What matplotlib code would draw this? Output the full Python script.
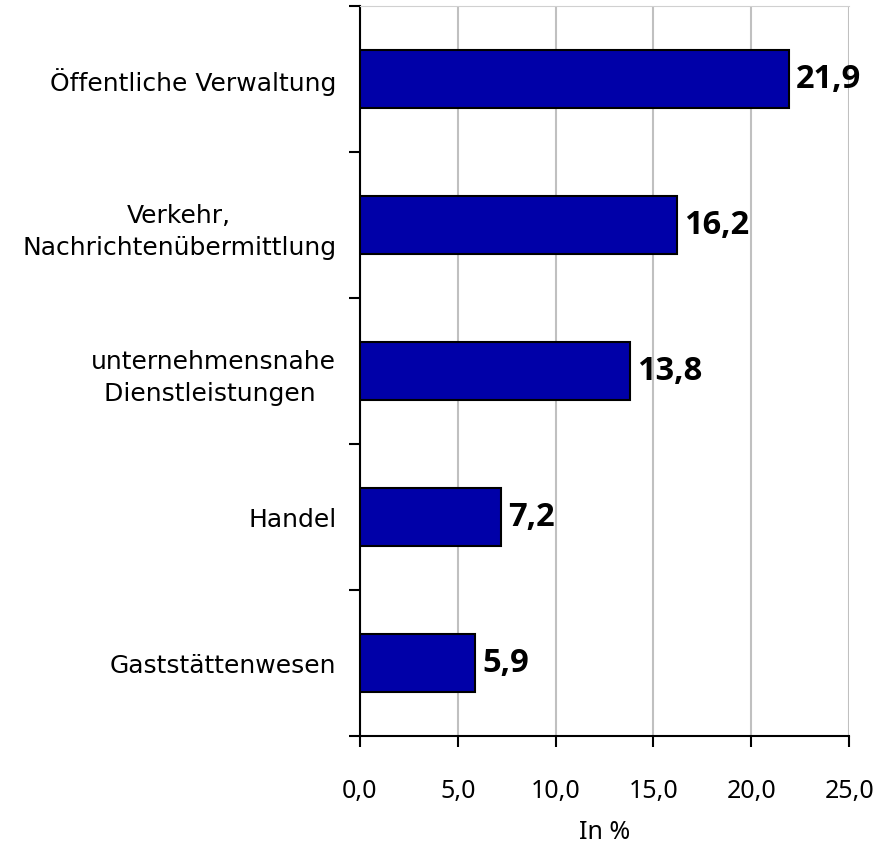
import matplotlib.pyplot as plt
import numpy as np

categories = ["Öffentliche Verwaltung", "Verkehr,\nNachrichtenübermittlung",
              "unternehmensnahe\nDienstleistungen ", "Handel", "Gaststättenwesen"]
values = [21.9, 16.2, 13.8, 7.2, 5.9]
xticks = [0, 5, 10, 15, 20, 25]

plt.rcParams['font.family'] = ['Open Sans', 'DejaVu Sans']

fig = plt.figure(figsize=(8.8, 8.54), dpi=100)
ax = fig.add_axes([0.409, 0.137, 0.556, 0.855])

pos = np.arange(len(categories))
ax.barh(pos, values, height=0.4, color='#0000A8', edgecolor='black', linewidth=1.5, zorder=3)
for p, v in zip(pos, values):
    ax.text(v + 0.35, p, "{:.1f}".format(v).replace('.', ','), va='center', ha='left',
            fontsize=23.5, fontweight='bold')

ax.set_ylim(len(categories) - 0.5, -0.5)
ax.set_xlim(0, 25)
ax.set_yticks(np.arange(-0.5, len(categories)))
ax.set_yticklabels([])
ax.set_yticks(pos, minor=True)
ax.set_yticklabels(categories, minor=True, fontsize=18, multialignment='center',
                   family=['DejaVu Sans'], linespacing=1.4)
ax.tick_params(axis='y', which='major', length=8, width=1.5, direction='out')
ax.tick_params(axis='y', which='minor', length=0, pad=17)

ax.set_xticks(xticks)
ax.set_xticklabels(["{:.1f}".format(x).replace('.', ',') for x in xticks], fontsize=18,
                   family=['Noto Sans', 'DejaVu Sans'])
ax.tick_params(axis='x', length=8, width=1.5, direction='out', pad=22)
ax.set_xlabel("In %", fontsize=18, labelpad=12, family=['Noto Sans', 'DejaVu Sans'])

ax.grid(axis='x', color='#c0c0c0', linewidth=1.5, zorder=0)
ax.spines['right'].set_visible(False)
ax.spines['top'].set_color('#d0d0d0')
ax.spines['left'].set_linewidth(1.5)
ax.spines['bottom'].set_linewidth(1.5)

fig.savefig("out.png", dpi=100)
